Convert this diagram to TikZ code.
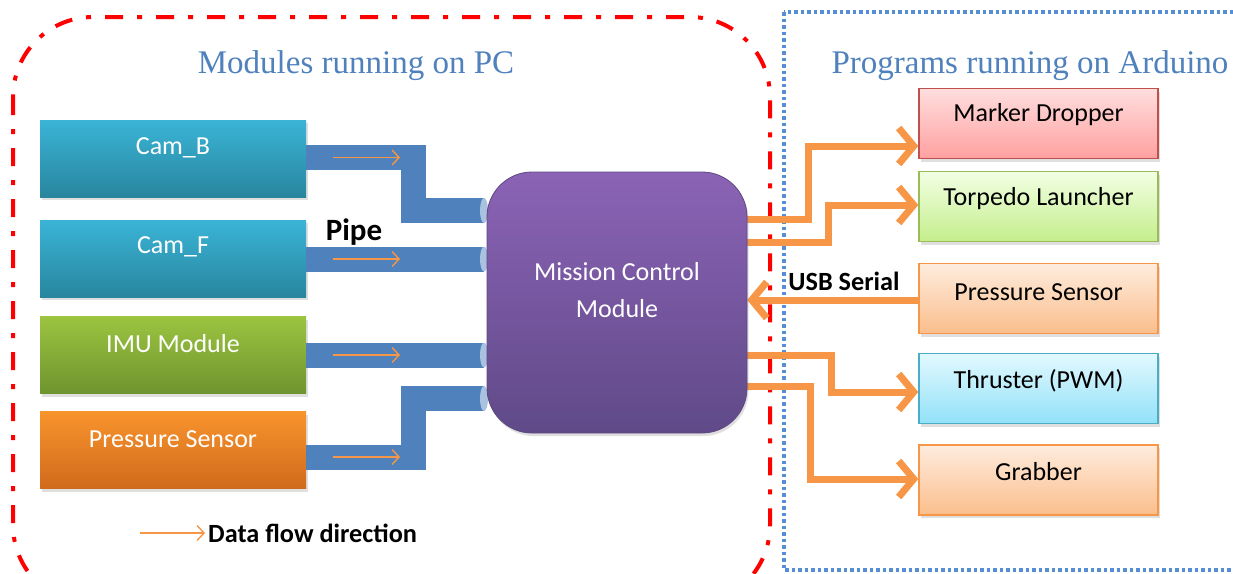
\documentclass[tikz,border=0pt]{standalone}
\usepackage{fontspec}
\setmainfont{Carlito}
\newfontfamily\titlefont{Liberation Serif}
\usetikzlibrary{arrows.meta,shadows}
\definecolor{pipeblue}{HTML}{4F81BD}
\definecolor{pipecap}{HTML}{A9C2E0}
\definecolor{oarrow}{HTML}{F79646}
\definecolor{titleblue}{HTML}{4F81BD}
\definecolor{dotblue}{HTML}{558ED5}
\definecolor{dashred}{HTML}{FF0000}
\definecolor{camtop}{RGB}{58,180,214}
\definecolor{cambot}{RGB}{40,134,158}
\definecolor{imutop}{RGB}{156,196,64}
\definecolor{imubot}{RGB}{110,148,46}
\definecolor{pstop}{RGB}{248,148,44}
\definecolor{psbot}{RGB}{208,106,28}
\definecolor{mkdraw}{RGB}{192,80,77}
\definecolor{mktop}{RGB}{255,222,222}
\definecolor{mkbot}{RGB}{255,160,160}
\definecolor{tpdraw}{RGB}{155,187,89}
\definecolor{tptop}{RGB}{242,255,228}
\definecolor{tpbot}{RGB}{196,238,140}
\definecolor{rptop}{RGB}{254,236,222}
\definecolor{rpbot}{RGB}{251,190,140}
\definecolor{thdraw}{RGB}{75,172,198}
\definecolor{thtop}{RGB}{226,249,255}
\definecolor{thbot}{RGB}{146,225,248}
\definecolor{mcdraw}{RGB}{94,72,130}
\definecolor{mctop}{RGB}{139,99,182}
\definecolor{mcbot}{RGB}{96,74,136}
\tikzset{
  lbox/.style={rectangle, minimum width=266pt, minimum height=77pt, inner sep=0pt,
    drop shadow={shadow xshift=1.5pt, shadow yshift=-3pt, opacity=0.25}},
  rbox/.style={rectangle, minimum width=239pt, minimum height=70pt, inner sep=0pt, line width=1.5pt,
    drop shadow={shadow xshift=1.5pt, shadow yshift=-3pt, opacity=0.25}},
  wtext/.style={text=white, font=\fontsize{26}{30}\selectfont, inner sep=0pt},
  btext/.style={text=black, font=\fontsize{26}{30}\selectfont, inner sep=0pt},
  boldlbl/.style={text=black, font=\fontsize{26.3}{30}\selectfont\bfseries, inner sep=0pt},
  titletext/.style={text=titleblue, font=\titlefont\fontsize{33}{38}\selectfont, inner sep=0pt},
  pipe/.style={draw=pipeblue, line width=25pt, line join=miter},
  pipecapst/.style={fill=pipecap, draw=none},
  flow/.style={draw=oarrow, line width=1.4pt, -{Straight Barb[length=7pt,width=15pt]}},
  oarr/.style={draw=oarrow, line width=7pt, -{Straight Barb[length=15pt,width=36pt]}},
}
\begin{document}
\begin{tikzpicture}[x=1pt,y=-1pt]
\useasboundingbox (0,0) rectangle (1233,573);
\clip (0,0) rectangle (1233,573);
\fill[white] (0,0) rectangle (1233,573);

% containers
\draw[dashred, line width=4pt, dash pattern=on 18pt off 14pt on 5pt off 14pt, rounded corners=80pt]
  (13,17) rectangle (770,605);
\draw[dotblue, line width=3.5pt, dash pattern=on 3.5pt off 3pt] (784,12) rectangle (1250,570);

\node[titletext] (ttl) at (356,66) {Modules running on PC};
\node[titletext] (ttr) at (1030,66) {Programs running on Arduino};

% left modules
\node[lbox, top color=camtop, bottom color=cambot] (camb) at (173,158.5) {};
\node[lbox, top color=camtop, bottom color=cambot] (camf) at (173,258.5) {};
\node[lbox, top color=imutop, bottom color=imubot] (imu) at (173,355) {};
\node[lbox, top color=pstop, bottom color=psbot] (pls) at (173,450) {};
\node[wtext] (cambt) at ([yshift=-28pt]camb.north) {Cam\_B};
\node[wtext] (camft) at ([yshift=-27pt]camf.north) {Cam\_F};
\node[wtext] (imut) at ([yshift=-27pt]imu.north) {IMU Module};
\node[wtext] (plst) at ([yshift=-28pt]pls.north) {Pressure Sensor};

% right programs
\node[rbox, draw=mkdraw, top color=mktop, bottom color=mkbot] (marker) at (1038.5,123.5) {};
\node[rbox, draw=tpdraw, top color=tptop, bottom color=tpbot] (torp) at (1038.5,206.5) {};
\node[rbox, draw=oarrow, top color=rptop, bottom color=rpbot] (rps) at (1038.5,298.5) {};
\node[rbox, draw=thdraw, top color=thtop, bottom color=thbot] (thr) at (1038.5,388.5) {};
\node[rbox, draw=oarrow, top color=rptop, bottom color=rpbot] (grab) at (1038.5,480) {};
\node[btext] (markert) at ([yshift=-27pt]marker.north) {Marker Dropper};
\node[btext] (torpt) at ([yshift=-28pt]torp.north) {Torpedo Launcher};
\node[btext] (rpst) at ([yshift=-29pt]rps.north) {Pressure Sensor};
\node[btext] (thrt) at ([yshift=-28pt]thr.north) {Thruster (PWM)};
\node[btext] (grabt) at ([yshift=-27pt]grab.north) {Grabber};

% mission control
\coordinate (mcmc) at (617,302.5);
% pipes
\draw[pipe] (camb.east |- 0,157.5) -- (413.5,157.5) -- (413.5,210.5) -- (484,210.5);
\draw[pipe] (camf.east |- 0,259) -- (484,259);
\draw[pipe] (imu.east |- 0,355) -- (484,355);
\draw[pipe] (pls.east |- 0,457) -- (413.5,457) -- (413.5,398.5) -- (484,398.5);
\foreach \yy in {210.5,259,355,398.5} \fill[pipecapst] (484,\yy) ellipse (4pt and 12.5pt);
\foreach \yy in {157.5,259,355,457} \draw[flow] (333,\yy) -- (400,\yy);

% orange arrows
\node[rectangle, minimum width=260pt, minimum height=261pt, inner sep=0pt] (mcmshape) at (mcmc) {};
\draw[oarr] (mcmshape.east |- 0,219) -- (808,219) -- (808,146) -- (marker.west |- 0,146);
\draw[oarr] (mcmshape.east |- 0,242) -- (828,242) -- (828,205) -- (torp.west |- 0,205);
\draw[oarr] (rps.west |- 0,300) -- (mcmshape.east |- 0,300);
\draw[oarr] (mcmshape.east |- 0,355) -- (831,355) -- (831,392) -- (thr.west |- 0,392);
\draw[oarr] (mcmshape.east |- 0,386) -- (810,386) -- (810,479) -- (grab.west |- 0,479);

\node[rectangle, rounded corners=45pt, minimum width=260pt, minimum height=261pt, inner sep=0pt,
  draw=mcdraw, line width=0.8pt, top color=mctop, bottom color=mcbot,
  drop shadow={shadow xshift=1.5pt, shadow yshift=-3pt, opacity=0.25}] (mcm) at (mcmc) {};
\node[text=white, font=\fontsize{26}{37}\selectfont, align=center, inner sep=0pt] (mcmt) at (617,290) {Mission Control\\Module};

% labels
\node[boldlbl, font=\fontsize{31}{35}\selectfont\bfseries] (pipel) at (354,232) {Pipe};
\node[boldlbl] (usbl) at (844,281) {USB Serial};
\coordinate (lega) at (140,533);
\coordinate (legb) at (205,533);
\draw[flow] (lega) -- (legb);
\node[boldlbl, anchor=west] (legt) at (208,533) {Data flow direction};
\end{tikzpicture}
\end{document}
